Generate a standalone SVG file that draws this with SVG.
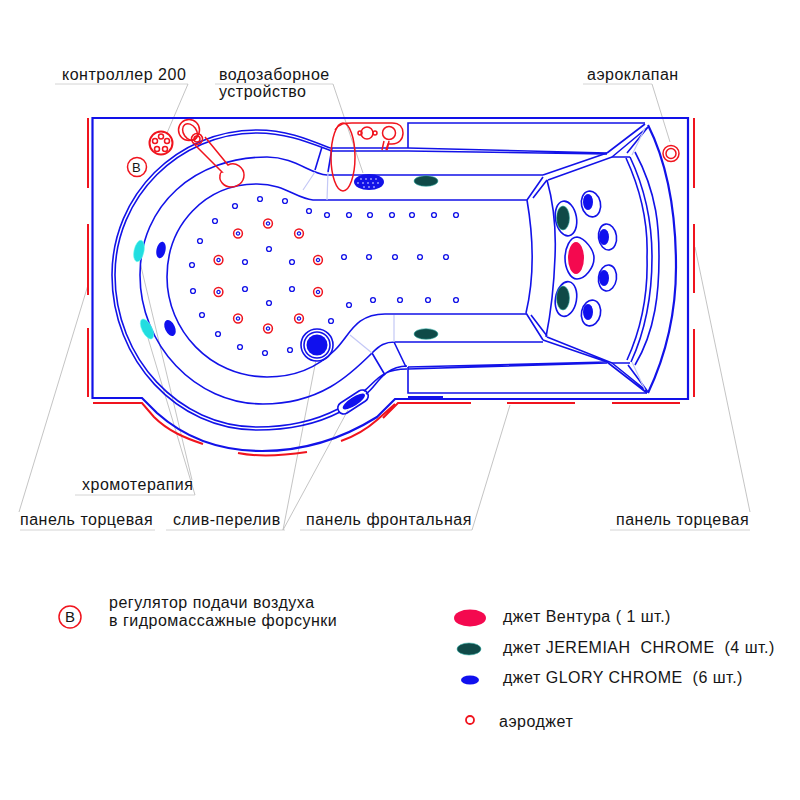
<svg xmlns="http://www.w3.org/2000/svg" width="800" height="800" viewBox="0 0 800 800">
<style>
.b{fill:none;stroke:#1212e8;stroke-width:1.6}
.bt{fill:none;stroke:#1212e8;stroke-width:2.200}
.pale{fill:none;stroke:#c4c8f6;stroke-width:1.2}
.r{fill:none;stroke:#f0141e;stroke-width:1.500}
.rt{fill:none;stroke:#f0141e;stroke-width:2}
.g{fill:none;stroke:#bdbdbd;stroke-width:.9}
.u{fill:none;stroke:#d4d4d4;stroke-width:1}
.gj{fill:#0f4a48;stroke:#35b0a8;stroke-width:.6}
.bj{fill:#1010ee}
.cy{fill:#22dde0;stroke:#6fe;stroke-width:.5}
text{font-family:"Liberation Sans",Arial,sans-serif;font-size:16px;letter-spacing:.5px;fill:#151515}
</style>
<defs>
<g id="d"><circle r="2.4" fill="#fff" stroke="#1212e8" stroke-width="1.400"/></g>
<g id="a"><circle r="4.4" fill="#fff" stroke="#f0141e" stroke-width="1.500"/><circle r="1.600" fill="#fff" stroke="#1212e8" stroke-width="1.300"/></g>
</defs>
<rect width="800" height="800" fill="#fff"/>

<g id="connectors">
<path class="u" d="M55 84H188M215 84H333M583 84H652M75 495H195M20 530H155M166 530H285M300 530H472M610 530H750"/>
<path class="g" d="M188 84L167 133M333 84L363 173M652 84L670 142M88 285L19 512M695 247L750 512M139 258L192 480M148 338L195 495M283 530L316 360M283 530L348 410M472 530L510 405"/>
</g>

<g id="panels">
<path class="rt" d="M88 118V188M88 224V295M88 328V397M694 118V188M694 224V293M694 329V397M507 403H575M612 403H680M383 418L398 403H471M93 403H142L154 417C168 431 185 438 203 444M238 453C258 457 280 456 307 452M341 441C358 435 368 428 377 420L395 404"/>
</g>

<g id="tub">
<path class="bt" d="M92.5 118V398H142L157 413C185 438 220 451 262 451C305 451 345 437 377 417L395 399H688V118Z"/>
<path class="bt" d="M408 397H443"/>
<path class="b" d="M330 148C305 138 285 130 257 130C177 130 112 195 112 275C112 360 177 430 257 430C285 430 315 425 340 412"/>
<path class="b" d="M332 151C305 141 285 133 257 133C179 133 115 197 115 275C115 358 179 427 257 427C285 427 313 422 338 409"/>
<path class="b" d="M366 394C378 385 382 367 407 366M364 391C376 382 380 369 407 369"/>
<path class="b" d="M330 148H408L607 153M332 151H408L607 154M408 367L607 362M408 369L607 363"/>
<path class="b" d="M543 175H327C310 174 295 157 267 157C195 157 140 205 140 275C140 345 195 404 263 404C320 404 350 375 372 353C380 345 385 342 395 342H543"/>
<path class="b" d="M527 200H313C295 198 285 184 257 184C205 184 167 225 167 277C167 330 210 377 267 377C300 377 320 365 335 350C350 335 355 314 385 314H526"/>
<path class="b" d="M527 200C533 235 535 275 526 313M527 200L543 177M526 313L543 340M533 198L547 180M531 315L547 336"/>
<path class="b" d="M547 180C554 205 556 235 555 257C554 285 551 312 546 337"/>
<path class="b" d="M543 175L607 153M548 180L612 157H630M543 340L607 362M547 337L612 363H630"/>
<path class="b" d="M626 158C643 195 648 230 647 257C648 290 643 325 627 360M630 157C648 195 652 230 652 257C652 290 648 325 631 362M635 152C658 195 659 230 659 257C659 290 656 330 635 365"/>
<path class="bt" d="M648 125C668 165 676 215 676 267C676 315 666 355 648 393"/>
<path class="b" d="M607 153L645 124M612 157L648 127M627 153L648 127M607 362L647 393M612 363L648 392M628 365L648 392"/>
<path class="b" d="M408 148V123H645M408 367V393H647"/>
<path class="b" d="M322 147L315 170M332 148L328 172M372 353L385 375M394 342L406 367"/>
<path class="pale" d="M303 190L315 172M327 200L328 172M350 335L372 353M394 315V342"/>
<path class="pale" d="M632 155L645 128M632 362L645 390"/>
</g>

<g id="air-regulator"><circle class="r" cx="137" cy="167" r="9.5"/><text x="132" y="172" style="font-size:13px;letter-spacing:0">В</text></g>
<g id="controller">
<circle class="rt" cx="161" cy="143" r="11.5"/>
<circle class="r" cx="161" cy="136.500" r="2.500"/><circle class="r" cx="167" cy="141" r="2.500"/><circle class="r" cx="165" cy="149" r="2.500"/><circle class="r" cx="157" cy="149" r="2.500"/><circle class="r" cx="155" cy="141" r="2.500"/>
</g>
<g id="intake-left">
<path class="r" d="M205 137L228 165C236 161 244 168 244 175C244 183 237 187 231 187C224 187 219 181 220 176C220 174 221 172 222 172L195 145"/>
<circle class="r" cx="189" cy="130" r="10.500"/>
<ellipse class="r" cx="190" cy="132" rx="6.500" ry="9" transform="rotate(-35 190 132)"/>
<circle class="r" cx="197" cy="139" r="5.500"/>
<circle class="r" cx="197" cy="139" r="3"/>
</g>
<g id="intake-device">
<path class="r" d="M335 130C340 123 345 123 352 123H392C400 123 403 128 403 133C403 139 399 144 392 144H388L386 150"/>
<ellipse class="r" cx="343" cy="157" rx="12" ry="34"/>
<circle class="r" cx="367" cy="133" r="6"/><circle class="r" cx="360" cy="133" r="2"/><circle class="r" cx="375" cy="133" r="2"/>
<circle class="r" cx="389" cy="133" r="6.500"/>
<path class="r" d="M382 150L384 141M387 150L389 141"/>
</g>
<g id="grille">
<ellipse cx="369" cy="182" rx="15" ry="8" fill="#1212e8"/>
<g fill="#9a9af8"><circle cx="361" cy="179" r="1"/><circle cx="366" cy="179" r="1"/><circle cx="371" cy="179" r="1"/><circle cx="376" cy="179" r="1"/><circle cx="358" cy="183" r="1"/><circle cx="363" cy="183" r="1"/><circle cx="368" cy="183" r="1"/><circle cx="373" cy="183" r="1"/><circle cx="378" cy="183" r="1"/><circle cx="364" cy="187" r="1"/><circle cx="369" cy="187" r="1"/><circle cx="374" cy="187" r="1"/></g>
</g>

<g id="chromotherapy">
<ellipse class="cy" cx="139" cy="251" rx="5" ry="11" transform="rotate(12 139 251)"/>
<ellipse class="cy" cx="147" cy="329" rx="5" ry="11" transform="rotate(-27 147 329)"/>
</g>
<g id="side-jets">
<ellipse class="bj" cx="161" cy="250" rx="4.500" ry="8.500" transform="rotate(12 161 250)"/>
<ellipse class="bj" cx="170" cy="328" rx="5" ry="8.500" transform="rotate(-25 170 328)"/>
</g>
<g id="drain">
<circle cx="317" cy="345" r="10.500" fill="#1010ee"/>
<circle class="b" cx="317" cy="345" r="13"/>
<circle class="b" cx="317" cy="345" r="16"/>
</g>
<g id="rim-jet" transform="rotate(-33 353 402)">
<rect class="b" x="336" y="396" width="34" height="12" rx="6" fill="#fff"/>
<ellipse class="bj" cx="354" cy="402" rx="13" ry="4.200"/>
</g>

<g id="jets">
<ellipse class="gj" cx="426" cy="181" rx="12" ry="5.300"/>
<ellipse class="gj" cx="426" cy="334" rx="12" ry="5.300"/>
<ellipse class="b" cx="566" cy="218.500" rx="10.500" ry="17.500" transform="rotate(-10 566 218.500)"/>
<ellipse class="b" cx="566" cy="299" rx="10.500" ry="17.500" transform="rotate(10 566 299)"/>
<ellipse class="gj" cx="563" cy="218" rx="6.500" ry="12"/>
<ellipse class="gj" cx="563" cy="298" rx="6.500" ry="12"/>
<ellipse cx="576" cy="258" rx="8" ry="16" fill="#f4094f"/>
<path class="b" d="M577 237C585 238 594 250 594 258C594 268 585 279 577 279C570 279 565 268 565 258C565 248 570 237 577 237Z"/>
<ellipse class="bj" cx="588" cy="202" rx="5" ry="8"/>
<ellipse class="bj" cx="604" cy="237" rx="5" ry="8"/>
<ellipse class="bj" cx="604" cy="278" rx="5" ry="8"/>
<ellipse class="bj" cx="588" cy="312" rx="5" ry="8"/>
<ellipse class="b" cx="591" cy="204" rx="9.500" ry="13" transform="rotate(-12 591 204)"/>
<ellipse class="b" cx="607.500" cy="237" rx="9" ry="13" transform="rotate(-8 607.500 237)"/>
<ellipse class="b" cx="607.500" cy="278" rx="9" ry="13" transform="rotate(8 607.500 278)"/>
<ellipse class="b" cx="591" cy="313" rx="9.500" ry="13" transform="rotate(12 591 313)"/>
</g>
<g id="air-valve"><circle class="r" cx="671" cy="153.500" r="8"/><circle class="r" cx="671" cy="153.500" r="5"/></g>

<g id="small-jets">
<use href="#d" x="260" y="199"/><use href="#d" x="285" y="201"/><use href="#d" x="235" y="206"/><use href="#d" x="309" y="211"/><use href="#d" x="215" y="221"/><use href="#d" x="327" y="215"/><use href="#d" x="349" y="215"/><use href="#d" x="370" y="215"/><use href="#d" x="392" y="215"/><use href="#d" x="412" y="215"/><use href="#d" x="434" y="215"/><use href="#d" x="456" y="215"/>
<use href="#d" x="200" y="241"/><use href="#d" x="192" y="265"/><use href="#d" x="193" y="291"/><use href="#d" x="202" y="315"/><use href="#d" x="218" y="334"/><use href="#d" x="240" y="347"/><use href="#d" x="265" y="353"/><use href="#d" x="290" y="350"/><use href="#d" x="331" y="321"/><use href="#d" x="349" y="305"/><use href="#d" x="373" y="300"/><use href="#d" x="400" y="300"/><use href="#d" x="428" y="300"/><use href="#d" x="456" y="300"/>
<use href="#d" x="344" y="257"/><use href="#d" x="369" y="257"/><use href="#d" x="395" y="257"/><use href="#d" x="420" y="257"/><use href="#d" x="446" y="257"/>
<use href="#d" x="269" y="249"/><use href="#d" x="245" y="262"/><use href="#d" x="292" y="262"/><use href="#d" x="245" y="289"/><use href="#d" x="292" y="289"/><use href="#d" x="269" y="303"/>
</g>
<g id="aero-jets">
<use href="#a" x="268" y="223.500"/><use href="#a" x="238" y="233.500"/><use href="#a" x="299" y="233.500"/><use href="#a" x="218.500" y="260"/><use href="#a" x="318" y="260"/><use href="#a" x="218.500" y="292"/><use href="#a" x="318" y="292"/><use href="#a" x="238" y="318.500"/><use href="#a" x="299" y="318.500"/><use href="#a" x="268" y="328.500"/>
</g>

<g id="labels">
<text x="62" y="80">контроллер 200</text>
<text x="219" y="80">водозаборное</text>
<text x="219" y="97">устройство</text>
<text x="587" y="80">аэроклапан</text>
<text x="82" y="490">хромотерапия</text>
<text x="20" y="525">панель торцевая</text>
<text x="173" y="525">слив-перелив</text>
<text x="306" y="525">панель фронтальная</text>
<text x="616" y="525">панель торцевая</text>
</g>

<g id="legend">
<circle class="r" cx="70" cy="617" r="11"/><text x="65" y="622" style="font-size:15px;letter-spacing:0">В</text>
<text x="109" y="608">регулятор подачи воздуха</text>
<text x="109" y="626">в гидромассажные форсунки</text>
<ellipse cx="470" cy="618" rx="16" ry="8.500" fill="#f4094f"/>
<ellipse class="gj" cx="469" cy="649" rx="12" ry="6"/>
<ellipse class="bj" cx="470" cy="680" rx="9" ry="4.500"/>
<circle cx="470" cy="720" r="4" fill="#fff" stroke="#f0141e" stroke-width="1.800"/>
<text x="503" y="622">джет Вентура ( 1 шт.)</text>
<text x="503" y="653" xml:space="preserve">джет JEREMIAH  CHROME  (4 шт.)</text>
<text x="503" y="683" xml:space="preserve">джет GLORY CHROME  (6 шт.)</text>
<text x="499" y="727">аэроджет</text>
</g>
</svg>
